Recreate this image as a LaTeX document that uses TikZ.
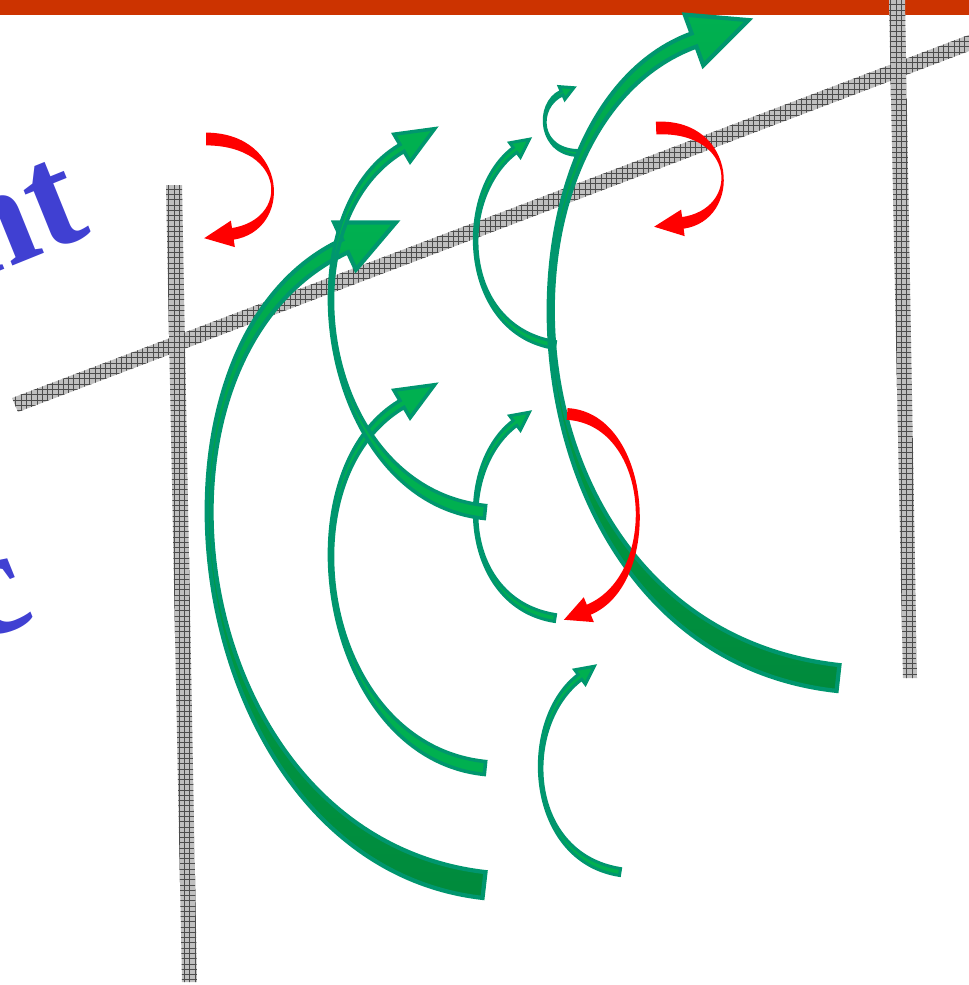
\documentclass[tikz,border=0pt]{standalone}
\usepackage{fontspec}
\setmainfont{Liberation Serif}
\usepackage{xcolor}
\usepackage{tikz}
\usetikzlibrary{calc,patterns}

\definecolor{barred}{RGB}{204,51,0}
\definecolor{leafgreen}{RGB}{0,176,80}
\definecolor{deepgreen}{RGB}{0,138,60}
\definecolor{rimteal}{RGB}{0,150,110}
\definecolor{inkblue}{RGB}{64,64,210}

% tapered bent arrow: style, tail, control 1, control 2, neck, tail half-width, neck half-width, wing half-width, head length (px)
\newcommand{\bentarrow}[9]{%
  \coordinate (tl) at #2; \coordinate (ca) at #3; \coordinate (cb) at #4; \coordinate (hd) at #5;
  \path[#1] ($(tl)!#6*0.569pt!90:(ca)$) .. controls ($(ca)!#6*0.569pt!-90:(tl)$) and ($(cb)!#7*0.569pt!90:(hd)$) .. ($(hd)!#7*0.569pt!-90:(cb)$)
    -- ($(hd)!#8*0.569pt!-90:(cb)$) -- ($(hd)!#9*0.569pt!180:(cb)$) -- ($(hd)!#8*0.569pt!90:(cb)$)
    -- ($(hd)!#7*0.569pt!90:(cb)$) .. controls ($(cb)!#7*0.569pt!-90:(hd)$) and ($(ca)!#6*0.569pt!90:(tl)$) .. ($(tl)!#6*0.569pt!-90:(ca)$) -- cycle;
}

\begin{document}
\begin{tikzpicture}[
  x=0.02cm, y=-0.02cm,
  bigarrow/.style={draw=rimteal, line width=2.4pt, top color=leafgreen, bottom color=deepgreen},
  midarrow/.style={draw=rimteal, fill=leafgreen, line width=2pt},
  smallarrow/.style={draw=rimteal, fill=leafgreen, line width=1.7pt},
  redarrow/.style={draw=red, fill=red, line width=1pt},
  hatchbar/.style={fill=gray!50, postaction={pattern=grid, pattern color=black!70}},
  bluetext/.style={text=inkblue, font=\fontsize{85}{90}\selectfont\bfseries, inner sep=0pt}
]
  \useasboundingbox (0,0) rectangle (969,985);
  \clip (0,0) rectangle (969,985);

  \fill[barred] (0,0) rectangle (969,15);

  % axes
  \path[hatchbar] (166,185) -- (182,185) -- (197,982) -- (182,982) -- cycle;
  \path[hatchbar] (889,0) -- (905,0) -- (917,678) -- (903,678) -- cycle;
  \path[hatchbar] (12,398) -- (987,28) -- (993,42) -- (18,412) -- cycle;

  \node[bluetext, rotate=22, anchor=base east] (wordtop) at (93,234) {nt};
  \node[bluetext, rotate=22, anchor=base east] (wordlow) at (38,620) {c};

  % green arrows
  \bentarrow{bigarrow}{(484,885)}{(180,850)}{(120,350)}{(345,246)}{13}{7}{26}{56}
  \bentarrow{midarrow}{(485,768)}{(320,751)}{(280,476)}{(402,404)}{6.5}{4}{16}{38}
  \bentarrow{smallarrow}{(620,872)}{(525,857)}{(520,722)}{(580,677)}{3.5}{3}{9}{18}
  \bentarrow{smallarrow}{(555,345)}{(460,330)}{(455,195)}{(515,150)}{3.5}{3}{9}{18}
  \bentarrow{smallarrow}{(555,618)}{(460,603)}{(455,468)}{(515,423)}{3.5}{3}{9}{18}
  \bentarrow{smallarrow}{(582,153)}{(538,155)}{(535,105)}{(562,93)}{2.5}{2}{7}{13}
  \bentarrow{bigarrow}{(838,678)}{(495,640)}{(475,120)}{(694,40)}{13}{7}{27}{58}
  \bentarrow{midarrow}{(485,512)}{(320,495)}{(280,220)}{(402,148)}{6.5}{4}{16}{38}

  % red arrows
  \bentarrow{redarrow}{(207,139)}{(287,140)}{(292,225)}{(232,234)}{5.5}{5}{12}{26}
  \bentarrow{redarrow}{(657,128)}{(737,125)}{(742,215)}{(682,223)}{5.5}{5}{12}{26}
  \bentarrow{redarrow}{(568,414)}{(652,420)}{(662,580)}{(588,610)}{5}{4.5}{12}{24}
\end{tikzpicture}
\end{document}
